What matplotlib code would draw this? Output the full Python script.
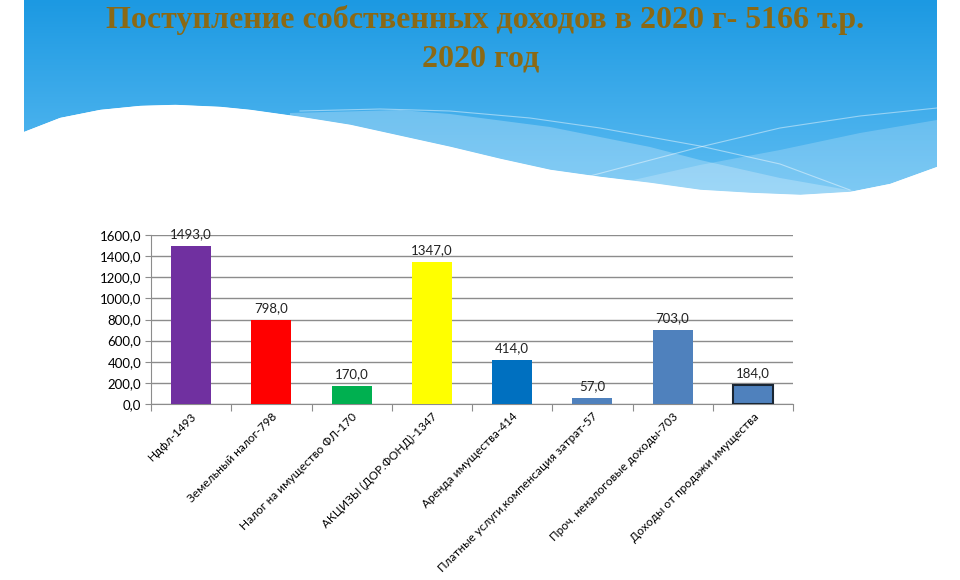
import numpy as np
import matplotlib.pyplot as plt
from matplotlib.patches import Polygon
from matplotlib.ticker import FuncFormatter

# -------------------------------
# Data
# -------------------------------
categories = [
    "Ндфл-1493",
    "Земельный налог-798",
    "Налог на имущество ФЛ-170",
    "АКЦИЗЫ (ДОР.ФОНД)-1347",
    "Аренда имущества-414",
    "Платные услуги,компенсация затрат-57",
    "Проч. неналоговые доходы-703",
    "Доходы от продажи имущества",
]
values = [1493.0, 798.0, 170.0, 1347.0, 414.0, 57.0, 703.0, 184.0]
colors = ["#7030A0", "#FF0000", "#00B050", "#FFFF00",
          "#0070C0", "#4F81BD", "#4F81BD", "#4F81BD"]
edges = ["none"] * 7 + ["#1A2633"]
yticks = [0, 200, 400, 600, 800, 1000, 1200, 1400, 1600]

title1 = "Поступление собственных доходов в 2020 г- 5166 т.р."
title2 = "2020 год"

W, H = 960, 580
fig = plt.figure(figsize=(W / 100, H / 100), dpi=100)
fig.patch.set_facecolor("white")

# -------------------------------
# Background (slide header wave), pixel coordinates
# -------------------------------
bg = fig.add_axes([0, 0, 1, 1], zorder=0)
bg.set_xlim(0, W)
bg.set_ylim(H, 0)
bg.axis("off")

wave_x = [24, 60, 100, 140, 175, 220, 250, 300, 350, 400, 450, 500, 550,
          600, 650, 700, 750, 800, 850, 890, 937]
wave_y = [132, 118, 110, 106, 105, 107, 110, 117, 125, 136, 147, 159, 170,
          177, 183, 190, 193, 195, 192, 184, 167]
blue_pts = [(24, 0), (937, 0)] + list(zip(wave_x[::-1], wave_y[::-1]))
clip = Polygon(blue_pts, closed=True, facecolor="none", edgecolor="none")
bg.add_patch(clip)

top = np.array([28, 153, 226]) / 255
bot = np.array([96, 190, 243]) / 255
t = np.linspace(0, 1, 200)[:, None]
grad = (top * (1 - t) + bot * t)[:, None, :].repeat(2, axis=1)
im = bg.imshow(grad, extent=[24, 937, 200, 0], aspect="auto", zorder=1)
im.set_clip_path(clip)

# lighter bands
band_a = [(290, 113), (400, 110), (450, 114), (550, 127), (650, 147),
          (700, 160), (780, 178), (860, 192), (937, 200), (290, 200)]
band_b = [(600, 200), (620, 183), (700, 165), (780, 150), (860, 133),
          (937, 120), (937, 200)]
for pts, a in [(band_a, 0.25), (band_b, 0.2)]:
    p = Polygon(pts, closed=True, facecolor="white", edgecolor="none",
                alpha=a, zorder=2)
    bg.add_patch(p)
    p.set_clip_path(clip)

# thin light lines
l1, = bg.plot([300, 380, 450, 530, 600, 700, 780, 850],
              [111, 109, 111, 118, 128, 146, 164, 190],
              color="white", lw=0.8, alpha=0.45, zorder=3)
l2, = bg.plot([590, 700, 780, 860, 937], [176, 147, 128, 116, 108],
              color="white", lw=0.8, alpha=0.45, zorder=3)
for ln in (l1, l2):
    ln.set_clip_path(clip)

# white area below the wave
bg.fill_between(wave_x, wave_y, 210, color="white", zorder=4)

# title
bg.text(485, 20, title1, ha="center", va="center", fontsize=23,
        fontweight="bold", family="Liberation Serif", color="#8B6914", zorder=5)
bg.text(481, 59, title2, ha="center", va="center", fontsize=23,
        fontweight="bold", family="Liberation Serif", color="#8B6914", zorder=5)

# -------------------------------
# Bar chart
# -------------------------------
ax = fig.add_axes([151 / W, 1 - 404 / H, (793 - 151) / W, (404 - 235) / H],
                  zorder=2)
ax.patch.set_alpha(0)
x = np.arange(len(values))
bars = ax.bar(x, values, width=0.5, color=colors, edgecolor=edges,
              linewidth=1.5, zorder=3)

for xi, v in zip(x, values):
    ax.text(xi, v + 55, f"{v:.1f}".replace(".", ","), ha="center",
            va="bottom", fontsize=9.5, family="Lato", color="#222222")

ax.set_xlim(-0.5, len(values) - 0.5)
ax.set_ylim(0, 1600)
ax.set_yticks(yticks)
ax.yaxis.set_major_formatter(FuncFormatter(lambda v, p: f"{v:.1f}".replace(".", ",")))
ax.grid(axis="y", color="#8C8C8C", linewidth=1, zorder=0)

ax.set_xticks(np.arange(-0.5, len(values), 1.0))
ax.set_xticklabels([])
ax.set_xticks(x, minor=True)
ax.set_xticklabels(categories, minor=True, rotation=45, ha="right",
                   rotation_mode="anchor", fontsize=8.5, family="Lato")
ax.tick_params(axis="x", which="minor", length=0, pad=5)
ax.tick_params(axis="x", which="major", length=5, color="#8C8C8C")
ax.tick_params(axis="y", length=4, color="#8C8C8C", labelsize=9.5, pad=3)
for lab in ax.get_yticklabels():
    lab.set_family("Lato")

for s in ["top", "right"]:
    ax.spines[s].set_visible(False)
for s in ["left", "bottom"]:
    ax.spines[s].set_color("#8C8C8C")

plt.savefig("out.png", dpi=100)
